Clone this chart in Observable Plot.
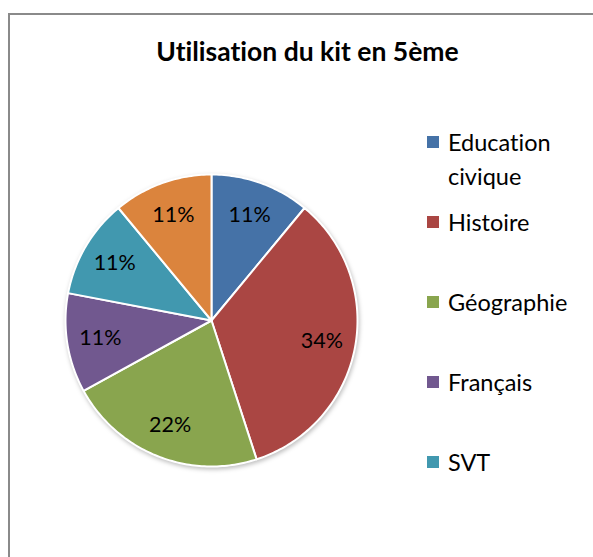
<!DOCTYPE html>
<html><head><meta charset="utf-8">
<script src="https://cdn.jsdelivr.net/npm/d3@7"></script>
<script src="https://cdn.jsdelivr.net/npm/@observablehq/plot@0.6"></script>
<style>
html,body{margin:0;padding:0;background:#fff;width:593px;height:557px;overflow:hidden;font-family:Lato,sans-serif;font-variant-ligatures:none}
#frame{position:absolute;left:8px;top:13px;width:700px;height:700px;border:2px solid #8a8a8a;box-sizing:border-box}
#title{position:absolute;left:0;width:615px;top:36px;text-align:center;font:bold 26.5px/1.2 Lato,sans-serif;color:#000;font-variant-ligatures:none}
#chart{position:absolute;left:0;top:0}
#chart svg g[aria-label="line"]{filter:drop-shadow(1px 2px 2px rgba(0,0,0,0.25))}
#legend{position:absolute;left:427px;top:125px;width:160px;height:400px;overflow:hidden}
#legend .lg-swatches{font-family:Lato,sans-serif;font-size:23.5px;color:#000;margin:0}
#legend .lg-swatch{display:flex;align-items:flex-start;height:80px;padding:0}
#legend .lg-swatch > svg{margin-right:9px;margin-top:11px;flex-shrink:0}
#legend .lg-swatch-label{white-space:normal;line-height:34px;overflow:visible}
</style>
</head><body>
<div id="frame"></div>
<div id="chart"></div>
<div id="title"></div>
<div id="legend"></div>
<script>
const title = "Utilisation du kit en 5ème";
const categories = ["Education civique", "Histoire", "Géographie", "Français", "SVT", "Autre"];
const values = [11, 34, 22, 11, 11, 11];
const colors = ["#4572A7", "#AA4643", "#89A54E", "#71588F", "#4198AF", "#DB843D"];
// the reference legend only has room for its first five entries
const legendCount = 5;

const arcs = d3.pie().sort(null).value(d => d)(values);
const wedge = [];
arcs.forEach((a, i) => {
  wedge.push({cat: categories[i], x: 0, y: 0});
  const n = Math.max(2, Math.ceil((a.endAngle - a.startAngle) / (Math.PI / 180)));
  for (let k = 0; k <= n; k++) {
    const t = a.startAngle + (a.endAngle - a.startAngle) * k / n;
    wedge.push({cat: categories[i], x: Math.sin(t), y: Math.cos(t)});
  }
});
const labelPts = arcs.map((a, i) => {
  const m = (a.startAngle + a.endAngle) / 2;
  return {cat: categories[i], label: values[i] + "%", x: 0.77 * Math.sin(m), y: 0.77 * Math.cos(m)};
});

const chart = Plot.plot({
  width: 593, height: 557, margin: 0,
  x: {domain: [-1, 1], range: [211 - 146, 211 + 146], axis: null},
  y: {domain: [-1, 1], range: [320 + 146, 320 - 146], axis: null},
  color: {domain: categories, range: colors},
  style: {background: "transparent", fontFamily: "Lato, sans-serif"},
  marks: [
    Plot.line(wedge, {x: "x", y: "y", z: "cat", fill: "cat", stroke: "white", strokeWidth: 2, curve: "linear-closed", strokeLinejoin: "round"}),
    Plot.text(labelPts, {x: "x", y: "y", text: "label", fontSize: 21.5, fill: "black"})
  ]
});
document.getElementById("chart").appendChild(chart);
document.getElementById("title").textContent = title;
document.getElementById("legend").appendChild(Plot.legend({
  color: {type: "ordinal", domain: categories.slice(0, legendCount), range: colors.slice(0, legendCount)},
  legend: "swatches", columns: 1, swatchSize: 12, className: "lg"
}));
</script>
</body></html>
